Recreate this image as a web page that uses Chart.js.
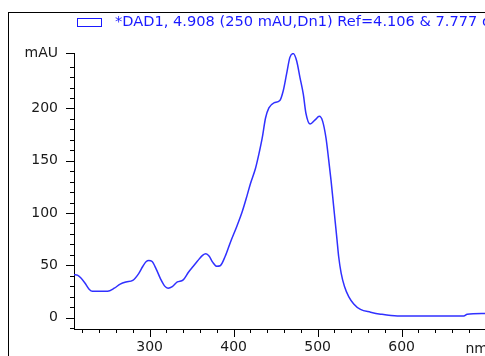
<!DOCTYPE html>
<html>
<head>
<meta charset="utf-8">
<script src="https://cdn.jsdelivr.net/npm/chart.js@4/dist/chart.umd.min.js"></script>
<style>
  body { margin: 0; background: #fff; }
  #wrap { width: 485px; height: 356px; overflow: hidden; position: relative; }
</style>
</head>
<body>
<div id="wrap"><canvas id="spec" width="520" height="356"></canvas></div>
<script>
// spectrum: wavelength (nm) and absorbance (mAU)
const wavelength = [210, 214, 218, 223, 228, 232, 250, 258, 265, 272, 280, 287, 292, 296, 299, 303,
  308, 313, 318, 322, 327, 333, 340, 346, 352, 357, 363, 367, 371, 375, 380, 384,
  390, 396, 404, 410, 416, 420, 426, 430, 434, 438, 442, 448, 455, 459, 463, 467,
  471, 475, 479, 483, 486, 491, 497, 502, 506, 510, 513, 516, 519, 521, 523, 525,
  528, 532, 537, 543, 551, 563, 575, 595, 674, 678, 698, 720];
const absorbance = [41, 40.5, 38, 33, 27, 25, 25, 28, 32, 34, 35.5, 42, 49, 53.5, 54.5, 53.5,
  46, 37, 30, 28, 29.5, 34, 36, 43, 49, 54, 59.5, 61, 58.5, 53, 49, 49.5,
  58.6, 71.6, 87.6, 100.6, 116.6, 128, 142.5, 156, 171.5, 190.8, 200.5, 205.3, 207.5, 216.6, 232.7, 248.8,
  252.5, 245.6, 229.5, 213.4, 195.6, 185, 189, 192.4, 187.6, 171.5, 152, 131, 107, 91, 75, 58.6,
  42.5, 29.6, 20, 13, 7.7, 5.1, 3.2, 1.5, 1.5, 3.2, 3.9, 4];

const seriesLabel = '*DAD1, 4.908 (250 mAU,Dn1) Ref=4.106 & 7.777 of 040-0201.D';

const xMin = 210, xMax = 729;
const yMin = -11, yTop = 253;
const xTicks = [];
for (let v = 220; v <= 720; v += 20) xTicks.push(v);
const yTicks = [];
for (let v = -10; v <= 240; v += 10) yTicks.push(v);
yTicks.push(yTop);

const lineColor = '#3030ff';
const textColor = '#1a1a1a';
const font = { family: 'DejaVu Sans', size: 14 };

// frame, legend box, tick marks of two lengths and the "nm" unit
const decor = {
  id: 'decor',
  afterDraw(chart) {
    const { ctx, chartArea, scales: { x, y } } = chart;
    ctx.save();
    ctx.strokeStyle = '#000';
    ctx.lineWidth = 1;
    ctx.strokeRect(8.5, 12.5, 1000, 1000);

    ctx.beginPath();
    const ax = chartArea.left;
    y.ticks.forEach(t => {
      const py = Math.round(y.getPixelForValue(t.value)) + 0.5;
      const major = t.value === yTop || (t.value % 50 === 0 && t.value >= 0);
      ctx.moveTo(ax - (major ? 8 : 4), py);
      ctx.lineTo(ax, py);
    });
    const ay = chartArea.bottom;
    x.ticks.forEach(t => {
      const px = Math.round(x.getPixelForValue(t.value)) + 0.5;
      const major = t.value % 100 === 0;
      ctx.moveTo(px, ay);
      ctx.lineTo(px, ay + (major ? 8 : 4));
    });
    ctx.stroke();

    ctx.fillStyle = textColor;
    ctx.font = '14px "DejaVu Sans"';
    ctx.textAlign = 'center';
    ctx.textBaseline = 'middle';
    ctx.fillText('nm', x.getPixelForValue(700) - 9, 349);

    ctx.strokeStyle = '#1a1aff';
    ctx.strokeRect(77.5, 18.5, 24, 8);
    ctx.fillStyle = '#1a1aff';
    ctx.font = '14.6px "DejaVu Sans"';
    ctx.textAlign = 'left';
    ctx.fillText(chart.data.datasets[0].label, 115, 22);
    ctx.restore();
  }
};

new Chart(document.getElementById('spec'), {
  type: 'line',
  data: {
    datasets: [{
      label: seriesLabel,
      data: wavelength.map((w, i) => ({ x: w, y: absorbance[i] })),
      borderColor: lineColor,
      borderWidth: 1.5,
      pointRadius: 0,
      cubicInterpolationMode: 'monotone',
      fill: false
    }]
  },
  options: {
    responsive: false,
    animation: false,
    layout: { padding: { left: 0, top: 53, right: 10, bottom: 0 } },
    plugins: { legend: { display: false }, tooltip: { enabled: false } },
    scales: {
      x: {
        type: 'linear',
        min: xMin,
        max: xMax,
        afterBuildTicks: s => { s.ticks = xTicks.map(v => ({ value: v })); },
        afterFit: s => { s.height = 27; },
        grid: { display: false, drawTicks: false },
        border: { display: true, color: '#000', width: 1 },
        ticks: {
          autoSkip: false,
          maxRotation: 0,
          padding: 10,
          color: textColor,
          font: font,
          callback: v => (v % 100 === 0 && v >= 300 && v <= 600) ? String(v) : ''
        }
      },
      y: {
        min: yMin,
        max: yTop,
        afterBuildTicks: s => { s.ticks = yTicks.map(v => ({ value: v })); },
        afterFit: s => { s.width = 74; },
        grid: { display: false, drawTicks: false },
        border: { display: true, color: '#000', width: 1 },
        ticks: {
          autoSkip: false,
          padding: 16,
          color: textColor,
          font: font,
          callback: v => v === yTop ? 'mAU' : ((v % 50 === 0 && v >= 0) ? String(v) : '')
        }
      }
    }
  },
  plugins: [decor]
});
</script>
</body>
</html>
